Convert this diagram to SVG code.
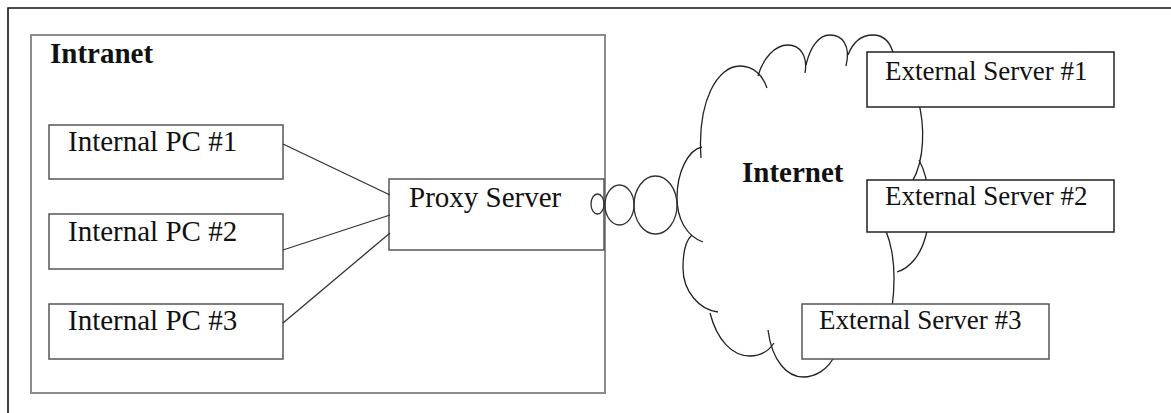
<svg xmlns="http://www.w3.org/2000/svg" width="1171" height="413" viewBox="0 0 1171 413">
<style>
.frame{fill:none;stroke:#111;stroke-width:1.6}
.group{fill:none;stroke:#8c8c8c;stroke-width:2}
.box{fill:#fff;stroke:#555;stroke-width:1.5}
.xbox{fill:#fff;stroke:#222;stroke-width:1.5}
.cloud{fill:none;stroke:#222;stroke-width:1.3}
.conn{fill:none;stroke:#333;stroke-width:1.3}
text{font-family:'Liberation Serif','Times New Roman',serif;fill:#111}
.t{font-size:29px}
.tx{font-size:27px}
.b{font-weight:bold}
</style>
<rect width="1171" height="413" fill="#fff"/>
<path class="frame" d="M8,413 V8 H1171"/>
<g id="intranet">
<rect class="group" x="31" y="35" width="574" height="358"/>
<text class="t b" x="50" y="63">Intranet</text>
</g>
<g id="internet-cloud">
<path class="cloud" d="M703,242 C686,236 677,218 677,198 C677,172 688,150 702,147"/>
<path class="cloud" d="M701,158 C697,100 718,66 740,66 C754,66 763,76 767,88"/>
<path class="cloud" d="M758,76 C763,58 775,45 788,45 C800,45 808,56 805,73"/>
<path class="cloud" d="M806,65 C810,48 818,35 830,35 C842,35 851,45 846,66"/>
<path class="cloud" d="M848,55 C853,42 862,35 873,35 C884,35 891,43 894,56"/>
<path class="cloud" d="M918,100 C925,125 925,160 912,182"/>
<path class="cloud" d="M919,160 C930,180 932,215 926,235 C921,255 910,268 897,272"/>
<path class="cloud" d="M877,216 C890,232 898,262 892,308"/>
<path class="cloud" d="M835,355 C828,370 815,377 803,377 C788,377 772,362 768,330"/>
<path class="cloud" d="M774,343 C768,352 760,356 750,356 C732,356 717,340 710,313"/>
<path class="cloud" d="M718,312 C700,310 683,292 683,268 C683,252 686,240 692,235"/>
<text class="t b" x="742" y="182">Internet</text>
</g>
<g id="pc1">
<rect class="box" x="49" y="125" width="234" height="54"/>
<text class="t" x="68" y="151">Internal PC #1</text>
</g>
<g id="pc2">
<rect class="box" x="49" y="214" width="234" height="55"/>
<text class="t" x="68" y="241">Internal PC #2</text>
</g>
<g id="pc3">
<rect class="box" x="49" y="304" width="234" height="55"/>
<text class="t" x="68" y="330">Internal PC #3</text>
</g>
<g id="proxy">
<rect class="box" x="389" y="179" width="215" height="71"/>
<text class="t" x="409" y="207">Proxy Server</text>
</g>
<g id="ext1">
<rect class="xbox" x="867" y="52" width="247" height="55"/>
<text class="tx" x="885" y="80">External Server #1</text>
</g>
<g id="ext2">
<rect class="xbox" x="867" y="180" width="247" height="52"/>
<text class="tx" x="885" y="205">External Server #2</text>
</g>
<g id="ext3">
<rect class="box" x="802" y="304" width="247" height="55"/>
<text class="tx" x="819" y="329">External Server #3</text>
</g>
<g id="connectors">
<line class="conn" x1="283" y1="144" x2="390" y2="195"/>
<line class="conn" x1="283" y1="250" x2="390" y2="215"/>
<line class="conn" x1="283" y1="323" x2="390" y2="233"/>
<ellipse class="conn" cx="597.5" cy="204" rx="6.5" ry="10"/>
<ellipse class="conn" cx="619.5" cy="205" rx="14.5" ry="20"/>
<ellipse class="conn" cx="655.5" cy="205" rx="21.5" ry="29"/>
</g>
</svg>
